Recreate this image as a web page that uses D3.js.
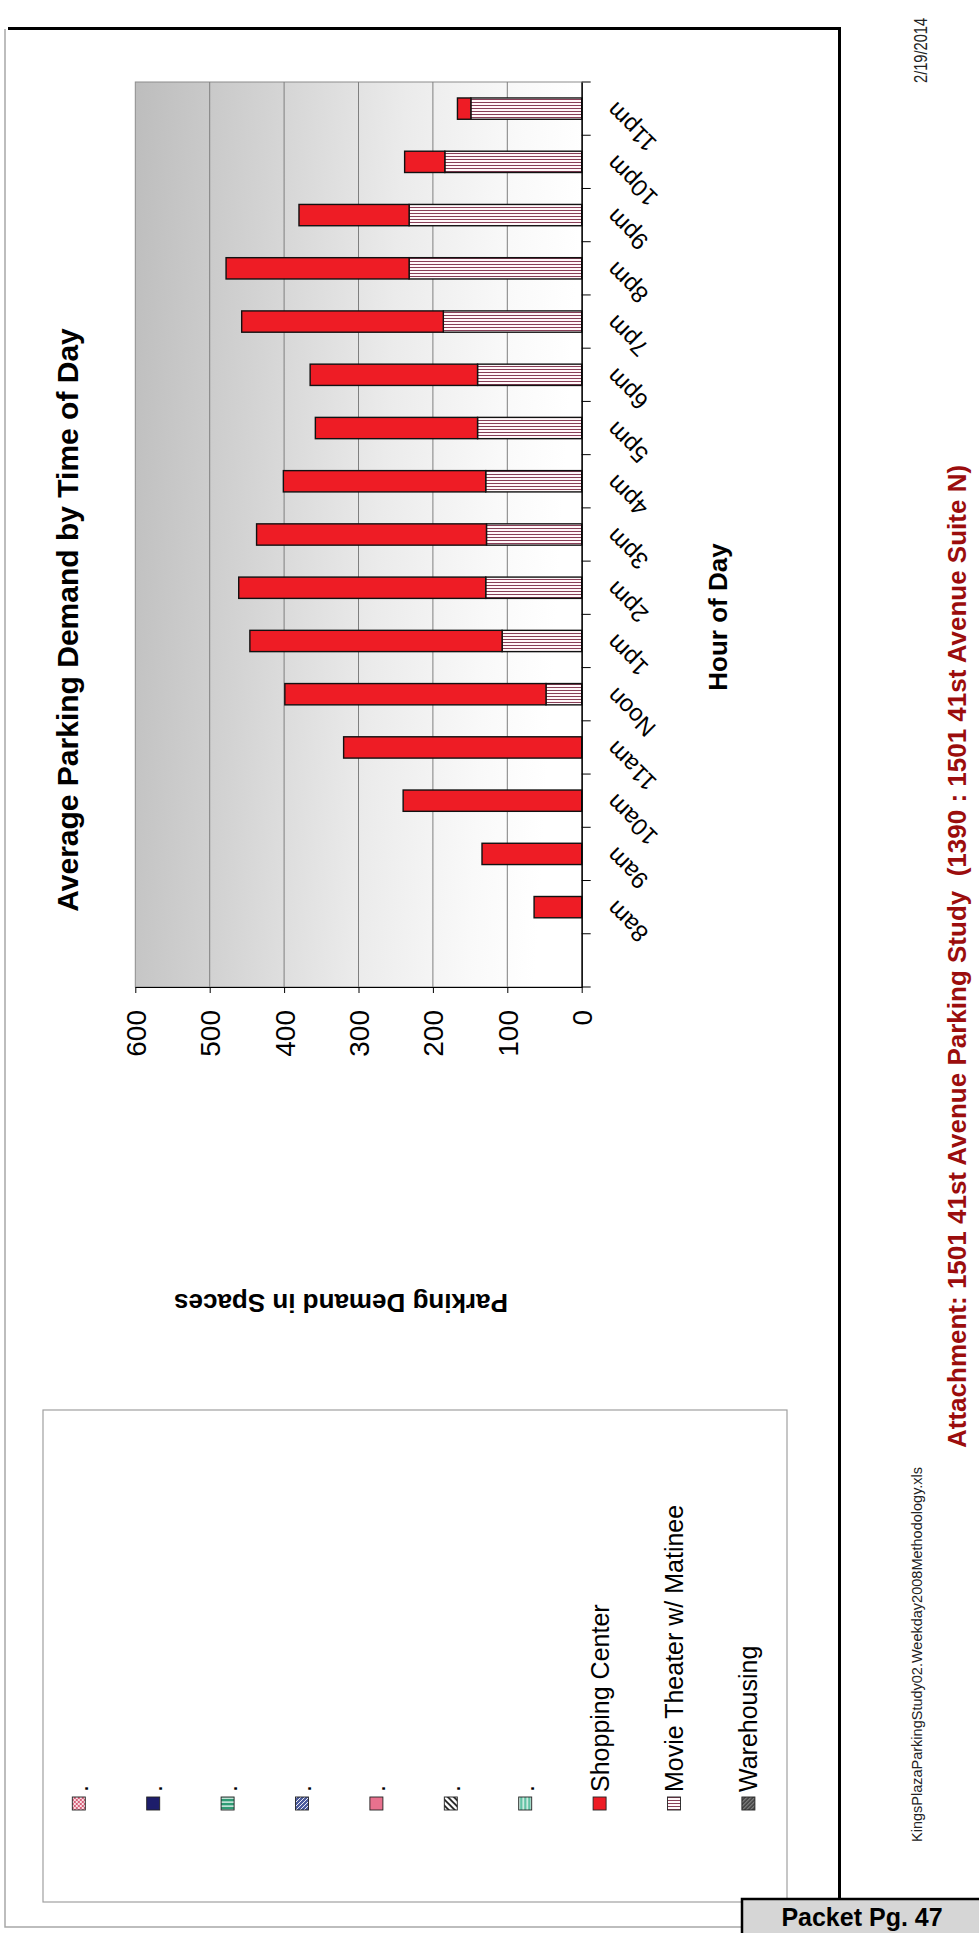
<!DOCTYPE html>
<html>
<head>
<meta charset="utf-8">
<script src="https://cdn.jsdelivr.net/npm/d3@7"></script>
<style>
  body { margin: 0; background: #ffffff; }
  svg { display: block; }
  text { font-family: Arial, "Liberation Sans", sans-serif; }
</style>
</head>
<body>
<svg id="page" width="979" height="1933"></svg>
<script>
// ---- chart data (page is laid out landscape, turned a quarter turn) ----
const hours = ["", "8am", "9am", "10am", "11am", "Noon", "1pm", "2pm", "3pm", "4pm",
               "5pm", "6pm", "7pm", "8pm", "9pm", "10pm", "11pm"];
const warehousing    = [0, 0, 0, 0, 0, 0, 0, 0, 0, 0, 0, 0, 0, 0, 0, 0, 0];
const movieTheater   = [0, 0, 0, 0, 0, 48, 107, 129, 128, 129, 140, 140, 186, 232, 232, 184, 149];
const shoppingCenter = [0, 64, 134, 240, 320, 351, 339, 332, 309, 272, 218, 225, 271, 246, 148, 54, 18];
const valueTicks = [0, 100, 200, 300, 400, 500, 600];
const legendLabels = [".", ".", ".", ".", ".", ".", ".",
                      "Shopping Center", "Movie Theater w/ Matinee", "Warehousing"];
const chartTitle = "Average Parking Demand by Time of Day";
const valueTitle = "Parking Demand in Spaces";
const hourTitle = "Hour of Day";
const attachmentText = "Attachment: 1501 41st Avenue Parking Study  (1390 : 1501 41st Avenue Suite N)";
const fileText = "KingsPlazaParkingStudy02.Weekday2008Methodology.xls";
const dateText = "2/19/2014";
const packetText = "Packet Pg. 47";

const svg = d3.select("#page");
const defs = svg.append("defs");

// plot background gradient
const grad = defs.append("linearGradient").attr("id", "plotGrad")
  .attr("x1", 0).attr("y1", 0).attr("x2", 1).attr("y2", 0.12);
[[0, "#bdbdbd"], [0.3, "#d3d3d3"], [0.6, "#ebebeb"], [0.85, "#f9f9f9"], [1, "#ffffff"]]
  .forEach(([o, c]) => grad.append("stop").attr("offset", o).attr("stop-color", c));

// fill patterns
function stripes(id, bg, fg, w, h, drawer) {
  const p = defs.append("pattern").attr("id", id).attr("patternUnits", "userSpaceOnUse")
    .attr("width", w).attr("height", h);
  p.append("rect").attr("width", w).attr("height", h).attr("fill", bg);
  drawer(p, fg);
}
stripes("movieFill", "#fff7f9", "#7a2944", 6, 3, (p, c) =>
  p.append("rect").attr("x", 0).attr("y", 0).attr("width", 6).attr("height", 0.9).attr("fill", c));
stripes("whFill", "#4a4a4a", "#a8a8a8", 4, 4, (p, c) =>
  p.append("path").attr("d", "M-1,1 L1,-1 M0,4 L4,0 M3,5 L5,3").attr("stroke", c).attr("stroke-width", 0.8));
stripes("lg0", "#d8607a", "#ffffff", 4, 4, (p, c) =>
  p.append("path").attr("d", "M0,0 L4,4 M4,0 L0,4").attr("stroke", c).attr("stroke-width", 0.8));
stripes("lg2", "#2f9b74", "#ffffff", 4, 4, (p, c) =>
  p.append("rect").attr("y", 1.5).attr("width", 4).attr("height", 1.2).attr("fill", c));
stripes("lg3", "#4c5b9c", "#ffffff", 4, 4, (p, c) =>
  p.append("path").attr("d", "M-1,1 L1,-1 M0,4 L4,0 M3,5 L5,3").attr("stroke", c).attr("stroke-width", 0.9));
stripes("lg5", "#ffffff", "#111111", 6, 6, (p, c) =>
  p.append("path").attr("d", "M-1,-1 L7,7 M-4,2 L2,8 M4,-2 L8,2").attr("stroke", c).attr("stroke-width", 1.6));
stripes("lg6", "#62c2a4", "#ffffff", 4, 4, (p, c) =>
  p.append("rect").attr("x", 1.5).attr("width", 1.2).attr("height", 4).attr("fill", c));

const legendFills = ["url(#lg0)", "#1d1d6b", "url(#lg2)", "url(#lg3)", "#e8718e",
                     "url(#lg5)", "url(#lg6)", "#ee1c25", "url(#movieFill)", "url(#whFill)"];

// ---- page frame ----
svg.append("path").attr("d", "M5,29 V1927 H742").attr("fill", "none")
  .attr("stroke", "#a8a8a8").attr("stroke-width", 1.5);
svg.append("path").attr("d", "M8,28.5 H839.5 V1899").attr("fill", "none")
  .attr("stroke", "#000").attr("stroke-width", 3);

// ---- plot ----
const plot = { left: 135.3, right: 581.7, top: 82, bottom: 987 };
const x = d3.scaleLinear().domain([0, 600]).range([plot.right, plot.left]);
const y = d3.scaleBand().domain(hours).range([plot.bottom, plot.top])
  .paddingInner(0.6).paddingOuter(0.3);

svg.append("rect").attr("x", plot.left).attr("y", plot.top)
  .attr("width", plot.right - plot.left).attr("height", plot.bottom - plot.top)
  .attr("fill", "url(#plotGrad)").attr("stroke", "#8c8c8c").attr("stroke-width", 1);

// gridlines
svg.append("g").selectAll("line").data(valueTicks.filter(v => v > 0 && v < 600)).join("line")
  .attr("x1", d => x(d)).attr("x2", d => x(d))
  .attr("y1", plot.top).attr("y2", plot.bottom)
  .attr("stroke", "#7f7f7f").attr("stroke-width", 1);

// stacked bars
const rows = hours.map((h, i) => ({
  hour: h, warehousing: warehousing[i], movie: movieTheater[i], shopping: shoppingCenter[i]
}));
const stack = d3.stack().keys(["warehousing", "movie", "shopping"])(rows);
const barFill = { warehousing: "url(#whFill)", movie: "url(#movieFill)", shopping: "#ee1c25" };
svg.append("g").selectAll("g").data(stack).join("g")
  .attr("fill", s => barFill[s.key])
  .selectAll("rect").data(s => s.filter(d => d[1] - d[0] > 0)).join("rect")
  .attr("x", d => x(d[1]))
  .attr("width", d => x(d[0]) - x(d[1]))
  .attr("y", d => y(d.data.hour))
  .attr("height", y.bandwidth())
  .attr("stroke", "#111").attr("stroke-width", 1.4);

// value axis (bottom of the plot)
const xAxis = svg.append("g").attr("transform", `translate(0,${plot.bottom})`)
  .call(d3.axisBottom(x).tickValues(valueTicks).tickSize(6).tickSizeOuter(0));
xAxis.select(".domain").attr("stroke", "#000").attr("stroke-width", 1);
xAxis.selectAll(".tick line").attr("stroke", "#000");
xAxis.selectAll(".tick text")
  .attr("x", null).attr("y", null).attr("dy", null)
  .attr("transform", "translate(10,23) rotate(-90)")
  .attr("text-anchor", "end")
  .attr("font-size", 28).attr("fill", "#000")
  .style("font-family", "Arial, 'Liberation Sans', sans-serif");

// category axis (right side of the plot)
const yAxis = svg.append("g").attr("transform", `translate(${plot.right},0)`)
  .call(d3.axisRight(y).tickSize(0).tickSizeOuter(0));
yAxis.select(".domain").attr("stroke", "#000").attr("stroke-width", 1.4);
yAxis.selectAll(".tick text")
  .attr("x", null).attr("dy", null)
  .attr("transform", "translate(35,-8) rotate(-135)")
  .attr("text-anchor", "end")
  .attr("font-size", 24).attr("fill", "#000")
  .style("font-family", "Arial, 'Liberation Sans', sans-serif");
const step = y.step();
const bounds = d3.range(hours.length + 1).map(k => plot.top + k * step);
svg.append("g").selectAll("line").data(bounds).join("line")
  .attr("x1", plot.right).attr("x2", plot.right + 9)
  .attr("y1", d => d).attr("y2", d => d)
  .attr("stroke", "#000").attr("stroke-width", 1);

// ---- titles ----
svg.append("text").attr("transform", "translate(78,620) rotate(-90)")
  .attr("text-anchor", "middle").attr("font-size", 30).attr("font-weight", "bold")
  .text(chartTitle);
svg.append("text").attr("transform", "translate(727,617) rotate(-90)")
  .attr("text-anchor", "middle").attr("font-size", 26).attr("font-weight", "bold")
  .text(hourTitle);
svg.append("text").attr("transform", "translate(341,1294) rotate(180)")
  .attr("text-anchor", "middle").attr("font-size", 26).attr("font-weight", "bold")
  .text(valueTitle);

// ---- legend ----
svg.append("rect").attr("x", 43).attr("y", 1410).attr("width", 744).attr("height", 492)
  .attr("fill", "#fff").attr("stroke", "#a0a0a0").attr("stroke-width", 1.2);
const legendX = d3.scalePoint().domain(d3.range(legendLabels.length)).range([78.8, 748.4]);
const items = svg.append("g").selectAll("g").data(legendLabels).join("g")
  .attr("transform", (d, i) => `translate(${legendX(i)},0)`);
items.append("rect").attr("x", -6.5).attr("y", 1797).attr("width", 13).attr("height", 13)
  .attr("fill", (d, i) => legendFills[i]).attr("stroke", "#222").attr("stroke-width", 0.9);
items.append("text").attr("transform", "translate(9,1792) rotate(-90)")
  .attr("font-size", 25).attr("fill", "#000").text(d => d);

// ---- page footer / margin text ----
svg.append("text").attr("transform", "translate(927,83) rotate(-90) scale(0.77,1)")
  .attr("font-size", 19).attr("fill", "#222").text(dateText);
svg.append("text").attr("transform", "translate(922,1842) rotate(-90)")
  .attr("font-size", 14.5).attr("fill", "#222").text(fileText);
svg.append("text").attr("transform", "translate(966,1448) rotate(-90)")
  .attr("font-size", 26).attr("font-weight", "bold").attr("fill", "#9b0d0d")
  .style("white-space", "pre").text(attachmentText);

svg.append("rect").attr("x", 742).attr("y", 1899).attr("width", 260).attr("height", 60)
  .attr("fill", "#d6d6d6").attr("stroke", "#000").attr("stroke-width", 2.5);
svg.append("text").attr("x", 862).attr("y", 1926).attr("text-anchor", "middle")
  .attr("font-size", 25).attr("font-weight", "bold").attr("fill", "#000").text(packetText);
</script>
</body>
</html>
